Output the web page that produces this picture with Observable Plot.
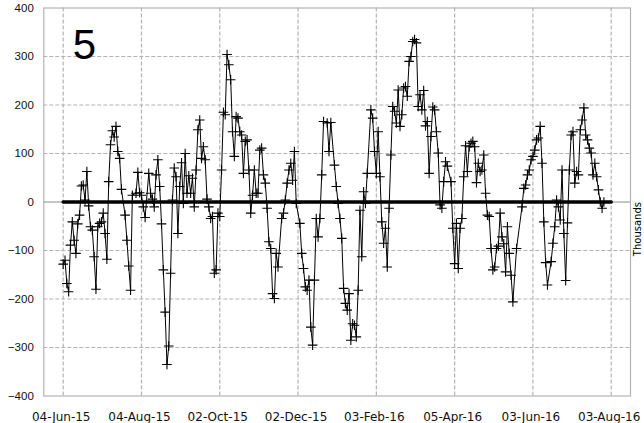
<!DOCTYPE html>
<html><head><meta charset="utf-8">
<script src="https://cdn.jsdelivr.net/npm/d3@7"></script>
<script src="https://cdn.jsdelivr.net/npm/@observablehq/plot@0.6"></script>
<style>
html,body{margin:0;padding:0;background:#fff;overflow:hidden;}
</style>
</head><body><div id="chart"></div>
<script>
// observation number (business days counted from 04-Jun-15) and value (thousands)
const obs = [0,1,2,3,4,5,6,7,8,9,10,11,12,13,14,15,16,17,18,19,20,21,22,23,24,25,26,27,28,29,30,31,32,34,35,36,37,38,40,41,42,43,44,45,47,48,49,50,51,52,53,54,55,56,57,58,59,60,61,62,63,64,65,66,67,68,69,70,71,72,73,74,75,76,77,78,79,80,81,82,83,84,85,86,87,88,89,90,91,92,93,94,95,96,97,98,99,100,101,102,103,104,105,106,107,108,109,110,111,112,113,114,115,116,117,118,120,121,122,123,124,125,126,127,128,130,131,132,133,134,135,136,137,138,139,140,141,142,143,145,146,147,149,150,151,152,153,154,155,156,157,158,159,160,161,162,163,164,165,166,167,169,170,171,172,173,174,175,176,177,178,179,180,181,182,183,184,185,186,187,188,189,190,191,192,193,194,195,196,197,198,199,200,201,202,203,204,205,206,207,208,209,210,211,213,214,215,216,217,218,219,220,221,222,223,224,225,226,227,228,229,230,231,232,233,234,235,236,237,238,239,240,241,242,243,244,245,246,247,249,252,253,254,255,256,257,258,259,260,261,262,263,264,265,266,268,269,270,271,272,273,274,275,276,277,278,279,280,281,282,283,284,285,286,287,288,289,290,291,292,293,294,295,296,297];
const values = [-128,-120,-168,-185,-89,-41,-79,-106,-45,-27,33,35,4,63,-8,-51,-58,-113,-180,-51,-44,-41,-23,-65,-118,42,118,147,134,156,104,90,26,-27,-79,-132,-182,14,18,61,19,14,-10,-32,59,18,6,-10,56,87,32,-45,-140,-227,-335,-297,-147,4,70,52,-65,32,81,-3,100,18,54,18,49,-10,66,149,169,90,114,87,6,-10,-34,-30,-147,-140,-23,-30,66,185,180,304,283,252,145,94,176,173,145,138,59,125,128,66,-23,14,66,18,18,107,111,56,39,-13,-82,-96,-189,-199,-106,-134,-34,-23,4,39,66,80,45,104,-3,-44,-106,-137,-175,-182,-161,-258,-295,-161,-34,-72,-34,56,166,163,104,164,76,32,-3,-34,-75,-178,-209,-223,-189,-285,-251,-254,-278,-182,-17,-113,21,-3,59,190,173,104,59,145,52,-41,-85,-54,-134,-13,97,197,187,163,231,156,180,235,238,218,290,300,331,335,328,197,221,190,230,157,166,59,135,196,190,145,101,-6,-13,42,83,74,42,-54,-127,-44,-137,-54,-34,52,116,63,114,121,125,114,40,80,63,66,97,18,-27,-30,-96,-140,-134,-96,-91,-23,-72,-86,-144,-51,-106,-151,-206,-96,-10,28,35,56,66,87,94,107,128,132,156,80,-41,-125,-171,-123,-85,-51,4,-10,-37,66,-65,-162,-43,66,138,145,39,63,56,149,169,194,138,128,111,101,56,80,52,25,0,-13,0];
const tickObs = [0,43,86,129,172,215,258,301];
const tickLabels = ["04-Jun-15","04-Aug-15","02-Oct-15","02-Dec-15","03-Feb-16","05-Apr-16","03-Jun-16","03-Aug-16"];
const yTicks = [-400,-300,-200,-100,0,100,200,300,400];
const panelLabel = "5";
const unitLabel = "Thousands";

const data = obs.map((o, i) => ({obs: o, value: values[i]}));
const baseline = [{obs: tickObs[0], value: 0}, {obs: tickObs[tickObs.length - 1], value: 0}];
const gridYVals = yTicks.filter(v => Math.abs(v) < 400 && v !== 0);

const chart = Plot.plot({
  width: 644,
  height: 423,
  marginLeft: 43.3,
  marginRight: 14,
  marginTop: 7.5,
  marginBottom: 27.5,
  x: {domain: [-10.65, 311.6]},
  y: {domain: [-400, 400]},
  style: {background: "#fff", overflow: "visible", color: "#111"},
  marks: [
    Plot.gridX(tickObs, {stroke: "#b3b3b3", strokeOpacity: 1, strokeDasharray: "4,2", strokeWidth: 1.2}),
    Plot.gridY(gridYVals, {stroke: "#b3b3b3", strokeOpacity: 1, strokeDasharray: "4,2", strokeWidth: 1.2}),
    Plot.ruleY([0], {stroke: "#8a8a8a", strokeWidth: 1}),
    Plot.frame({stroke: "#b3b3b3", strokeWidth: 1.2}),
    Plot.line(baseline, {x: "obs", y: "value", stroke: "#000", strokeWidth: 3.5}),
    Plot.line(data, {x: "obs", y: "value", stroke: "#000", strokeWidth: 1}),
    Plot.dot(data, {x: "obs", y: "value", symbol: "plus", r: 3.2, stroke: "#000", strokeWidth: 1.1}),
    Plot.axisY(yTicks, {tickSize: 0, tickPadding: 10, label: null, fontSize: 11.5, fontFamily: "Liberation Sans, Arial, sans-serif"}),
    Plot.axisX(tickObs, {tickSize: 0, tickPadding: 16, label: null, dx: -2,
      tickFormat: d => tickLabels[tickObs.indexOf(d)], fontSize: 12, fontFamily: "DejaVu Sans, Verdana, sans-serif"}),
    Plot.text([panelLabel], {frameAnchor: "top-left", dx: 29, dy: 50.5, lineAnchor: "bottom", textAnchor: "start",
      fontSize: 42, fontFamily: "Liberation Sans, Arial, sans-serif", fill: "#000"}),
    Plot.text([unitLabel], {frameAnchor: "right", dx: 7.5, rotate: -90, fontSize: 10,
      fontFamily: "DejaVu Sans, Verdana, sans-serif", fill: "#000"})
  ]
});
document.getElementById("chart").appendChild(chart);
</script>
</body></html>
